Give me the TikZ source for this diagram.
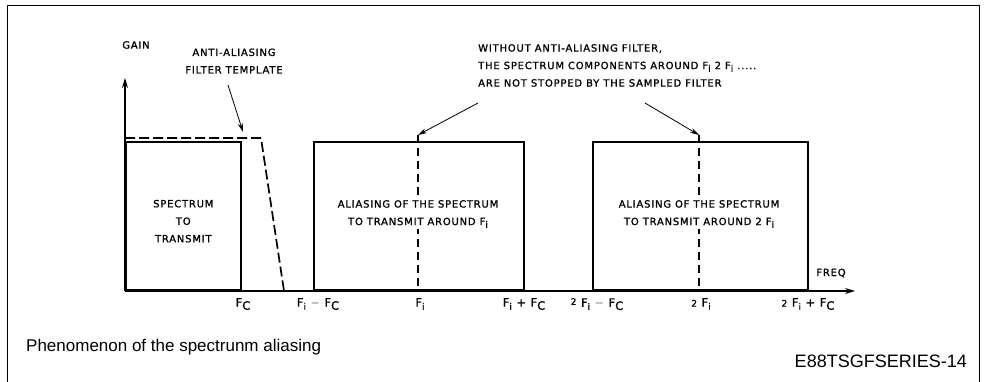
\documentclass[tikz,border=0pt]{standalone}
\usepackage{fontspec}
\setmainfont{Liberation Sans}
\newfontfamily\diagfont[LetterSpace=8, FakeBold=1.2]{DejaVu Sans}
\usetikzlibrary{arrows.meta}
\newcommand{\lowidx}[1]{\raisebox{-0.5ex}{#1}}
\begin{document}
\begin{tikzpicture}[
                x=1pt, y=-1pt,
                every node/.style={font=\diagfont\fontsize{10}{17.5}\selectfont, inner sep=1pt},
                axis/.style={line width=1.3pt, -{Stealth[length=10pt, width=6pt]}},
                band/.style={draw, line width=1.6pt, inner sep=0pt, anchor=south west, minimum height=148pt},
                template/.style={line width=1.7pt, dash pattern=on 10pt off 4pt},
                centre/.style={line width=1.6pt, dash pattern=on 8pt off 5pt},
                pointer/.style={line width=0.8pt, -{Stealth[length=9pt, width=5pt]}},
                tick/.style={anchor=north, font=\diagfont\fontsize{11.5}{13}\selectfont}
                ]
                \useasboundingbox (0,0) rectangle (986,382);
                % frame
                \draw[line width=0.9pt] (7,383) -- (7,5) -- (979,5) -- (979,383);
                % axes
                \coordinate (o) at (125,291);
                \coordinate (ytop) at (125,78);
                \coordinate (xend) at (855,291);
                \draw[axis] (o) -- (ytop);
                \draw[axis] (o) -- (xend);
                \node (gain) at (136,45) {GAIN};
                \node (freq) at (831,273) {FREQ};
                % spectrum and its two aliases
                \node[band, minimum width=115pt] (tx) at (125,291) {};
                \node[band, minimum width=210pt] (al1) at (313,291) {};
                \node[band, minimum width=215pt] (al2) at (592,291) {};
                \coordinate (c1top) at (418,135);
                \coordinate (c1bot) at (418,291);
                \coordinate (c2top) at (699,135);
                \coordinate (c2bot) at (699,291);
                \draw[centre] (c1top) -- (c1bot);
                \draw[centre] (c2top) -- (c2bot);
                \node[align=center] (txt) at ([yshift=-5pt]tx.center) {SPECTRUM\\TO\\TRANSMIT};
                \node[align=center, fill=white] (al1txt) at (418,214) {ALIASING OF THE SPECTRUM\\TO TRANSMIT AROUND F\lowidx{\small i}};
                \node[align=center, fill=white] (al2txt) at (699,214) {ALIASING OF THE SPECTRUM\\TO TRANSMIT AROUND 2 F\lowidx{\small i}};
                % anti-aliasing filter template
                \coordinate (f0) at (125,138);
                \coordinate (f1) at (261,138);
                \coordinate (f2) at (284,291);
                \draw[template] (f0) -- (f1) -- (f2);
                \node[align=center] (tmpl) at (234,61) {ANTI-ALIASING\\FILTER TEMPLATE};
                \coordinate (tmplend) at (243,132);
                \draw[pointer] (228,85) -- (tmplend);
                % note on missing filter
                \node[align=left, anchor=north west] (note) at (477,43)
                    {WITHOUT ANTI-ALIASING FILTER,\\THE SPECTRUM COMPONENTS AROUND F\lowidx{\small i} 2 F\lowidx{\small i} .....\\ARE NOT STOPPED BY THE SAMPLED FILTER};
                \coordinate (n1) at (478,103);
                \coordinate (n2) at (645,103);
                \draw[pointer] (n1) -- (c1top);
                \draw[pointer] (n2) -- (c2top);
                % frequency marks
                \node[tick] (lfc) at (243,297) {F\lowidx{C}};
                \node[tick] (lfimfc) at (318,297) {F\lowidx{\small i} $-$ F\lowidx{C}};
                \node[tick] (lfi) at (420,297) {F\lowidx{\small i}};
                \node[tick] (lfipfc) at (524,297) {F\lowidx{\small i} + F\lowidx{C}};
                \node[tick] (l2fimfc) at (597,297) {\raisebox{0.3ex}{\small 2} F\lowidx{\small i} $-$ F\lowidx{C}};
                \node[tick] (l2fi) at (701,297) {{\small 2} F\lowidx{\small i}};
                \node[tick] (l2fipfc) at (808,297) {{\small 2} F\lowidx{\small i} + F\lowidx{C}};
                % caption
                \node[font=\rmfamily\fontsize{17}{19}\selectfont, anchor=west] (cap) at (25,347) {Phenomenon of the spectrunm aliasing};
                \node[font=\rmfamily\fontsize{18}{20}\selectfont, anchor=east] (ref) at (968,361) {E88TSGFSERIES-14};
            \end{tikzpicture}
\end{document}
